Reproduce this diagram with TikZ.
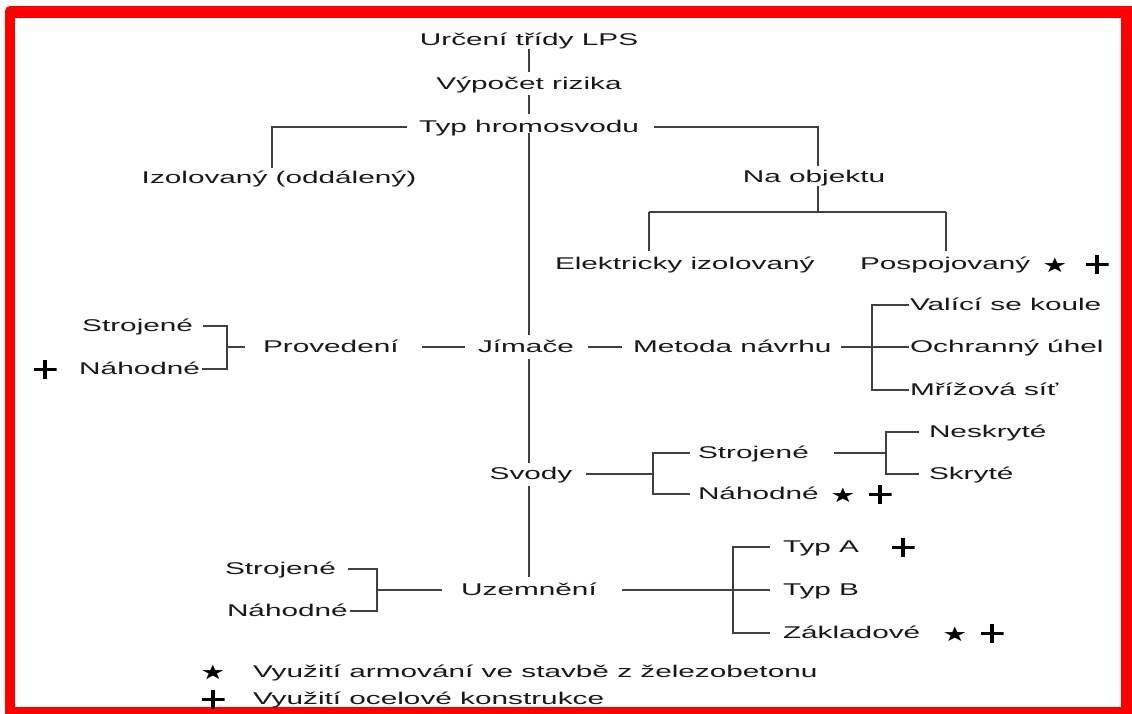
\documentclass[tikz,border=0pt]{standalone}
\usepackage{fontspec}
\setmainfont{Liberation Sans}[FakeStretch=1.75]
\newfontfamily\symfont{DejaVu Sans}[FakeStretch=1.4]
\usetikzlibrary{calc}
\begin{document}
\begin{tikzpicture}[x=1pt,y=-1pt,
  lbl/.style={inner sep=0pt, outer sep=0pt, text height=10pt, text depth=0pt,
    font=\fontsize{17}{20}\selectfont, text=black!90},
  wire/.style={draw=black!75, line width=1.2pt},
  starsym/.style={inner sep=0pt, font=\symfont\fontsize{20}{20}\selectfont},
  plussym/.style={inner sep=0pt, minimum width=23pt, minimum height=19pt,
    path picture={
      \fill[black] ([yshift=-1.5pt]path picture bounding box.west) rectangle ([yshift=1.5pt]path picture bounding box.east);
      \fill[black] ([xshift=-2.1pt]path picture bounding box.north) rectangle ([xshift=2.1pt]path picture bounding box.south);}}
]
\useasboundingbox (0,0) rectangle (1132,713);
% page and red frame
\fill[white] (0,0) rectangle (1132,713);
\fill[red, rounded corners=5pt] (5,6) rectangle (1145,725);
\fill[white] (15,18) rectangle (1121,707);

% main column
\node[lbl] (urc) at (529,40) {Určení třídy LPS};
\node[lbl] (vyp) at (529,84) {Výpočet rizika};
\node[lbl] (typ) at (529,127) {Typ hromosvodu};
\node[lbl] (jim) at (526,347) {Jímače};
\node[lbl] (svody) at (531,474) {Svody};
\node[lbl] (uzem) at (529,590) {Uzemnění};

% type of lightning protection
\node[lbl] (izol) at (279,178) {Izolovaný (oddálený)};
\node[lbl] (naobj) at (814,177) {Na objektu};
\node[lbl, anchor=west] (elek) at (555,264) {Elektricky izolovaný};
\node[lbl, anchor=west] (posp) at (860,264) {Pospojovaný};
\node[starsym] (posps) at (1055,265) {★};
\node[plussym] (pospp) at (1097,264) {};

% air terminations
\node[lbl, anchor=east] (strL) at (193,326) {Strojené};
\node[lbl, anchor=east] (nahL) at (200,369) {Náhodné};
\node[plussym] (nahLp) at (45,369) {};
\node[lbl, anchor=west] (prov) at (263,347) {Provedení};
\node[lbl, anchor=west] (met) at (633,347) {Metoda návrhu};
\node[lbl, anchor=west] (val) at (910,305) {Valící se koule};
\node[lbl, anchor=west] (och) at (910,347) {Ochranný úhel};
\node[lbl, anchor=west] (mriz) at (910,390) {Mřížová síť};

% down conductors
\node[lbl, anchor=west] (strM) at (698,453) {Strojené};
\node[lbl, anchor=west] (nahM) at (698,494) {Náhodné};
\node[starsym] (nahMs) at (843,495) {★};
\node[plussym] (nahMp) at (880,494) {};
\node[lbl, anchor=west] (nesk) at (929,432) {Neskryté};
\node[lbl, anchor=west] (skr) at (929,474) {Skryté};

% earthing
\node[lbl, anchor=west] (strU) at (225,569) {Strojené};
\node[lbl, anchor=west] (nahU) at (227,611) {Náhodné};
\node[lbl, anchor=west] (typA) at (783,547) {Typ A};
\node[plussym] (typAp) at (903,547) {};
\node[lbl, anchor=west] (typB) at (783,590) {Typ B};
\node[lbl, anchor=west] (zakl) at (783,633) {Základové};
\node[starsym] (zakls) at (955,634) {★};
\node[plussym] (zaklp) at (992,633) {};

% legend
\node[starsym] (legs) at (213,672) {★};
\node[lbl, anchor=west] (leg1) at (253,672) {Využití armování ve stavbě z železobetonu};
\node[plussym] (legp) at (213,699) {};
\node[lbl, anchor=west] (leg2) at (253,699) {Využití ocelové konstrukce};

% junction points
\coordinate (xIz) at (272,0);
\coordinate (xNa) at (818,0);
\coordinate (jN) at (818,212);
\coordinate (jE) at (649,212);
\coordinate (jP) at (946,212);
\coordinate (bP) at (227,347);
\coordinate (bM) at (872,347);
\coordinate (bS) at (653,474);
\coordinate (bN) at (886,453);
\coordinate (bU) at (377,590);
\coordinate (bT) at (733,590);

% main column connectors
\draw[wire] ([yshift=-4pt]urc.south) -- ([yshift=7pt]vyp.north);
\draw[wire] ([yshift=-6pt]vyp.south) -- ([yshift=8pt]typ.north);
\draw[wire] ([yshift=-1pt]typ.south) -- ([yshift=7pt]typ.south |- jim.north);
\draw[wire] ([yshift=-7pt]typ.south |- jim.south) -- ([yshift=6pt]typ.south |- svody.north);
\draw[wire] ([yshift=-7pt]typ.south |- svody.south) -- ([yshift=8pt]typ.south |- uzem.north);

% type branches
\draw[wire, shorten >=5pt] ([xshift=-12pt]typ.west) -| (xIz |- izol.north);
\draw[wire, shorten >=6pt] ([xshift=15pt]typ.east) -| (xNa |- naobj.north);
\draw[wire, shorten <=4pt] (xNa |- naobj.south) -- (jN);
\draw[wire] (jE) -- (jP);
\draw[wire, shorten >=8pt] (jE) -- (jE |- elek.north);
\draw[wire, shorten >=8pt] (jP) -- (jP |- posp.north);

% air termination branches
\draw[wire] ([xshift=10pt]strL.east) -| (bP);
\draw[wire] ([xshift=2pt]nahL.east) -| (bP);
\draw[wire, shorten >=18pt] (bP) -- (prov.west);
\draw[wire] ([xshift=23pt]prov.east) -- ([xshift=-13pt]jim.west);
\draw[wire] ([xshift=14pt]jim.east) -- ([xshift=-11pt]met.west);
\draw[wire] ([xshift=10pt]met.east) -- ([xshift=-1pt]och.west);
\draw[wire] ([xshift=-1pt]val.west) -| (bM |- mriz.west) -- ([xshift=-1pt]mriz.west);

% down conductor branches
\draw[wire] ([xshift=14pt]svody.east) -- (bS);
\draw[wire, shorten <=8pt] (strM.west) -| (bS);
\draw[wire, shorten <=8pt] (nahM.west) -| (bS);
\draw[wire] ([xshift=25pt]strM.east) -- (bN);
\draw[wire] ([xshift=-10pt]nesk.west) -| (bN |- skr.west) -- ([xshift=-10pt]skr.west);

% earthing branches
\draw[wire] ([xshift=-19pt]uzem.west) -- (bU);
\draw[wire] ([xshift=12pt]strU.east) -| (bU);
\draw[wire] ([xshift=2pt]nahU.east) -| (bU);
\draw[wire] ([xshift=25pt]uzem.east) -- ([xshift=-13pt]typB.west);
\draw[wire] ([xshift=-13pt]typA.west) -| (bT |- zakl.west) -- ([xshift=-13pt]zakl.west);
\end{tikzpicture}
\end{document}
